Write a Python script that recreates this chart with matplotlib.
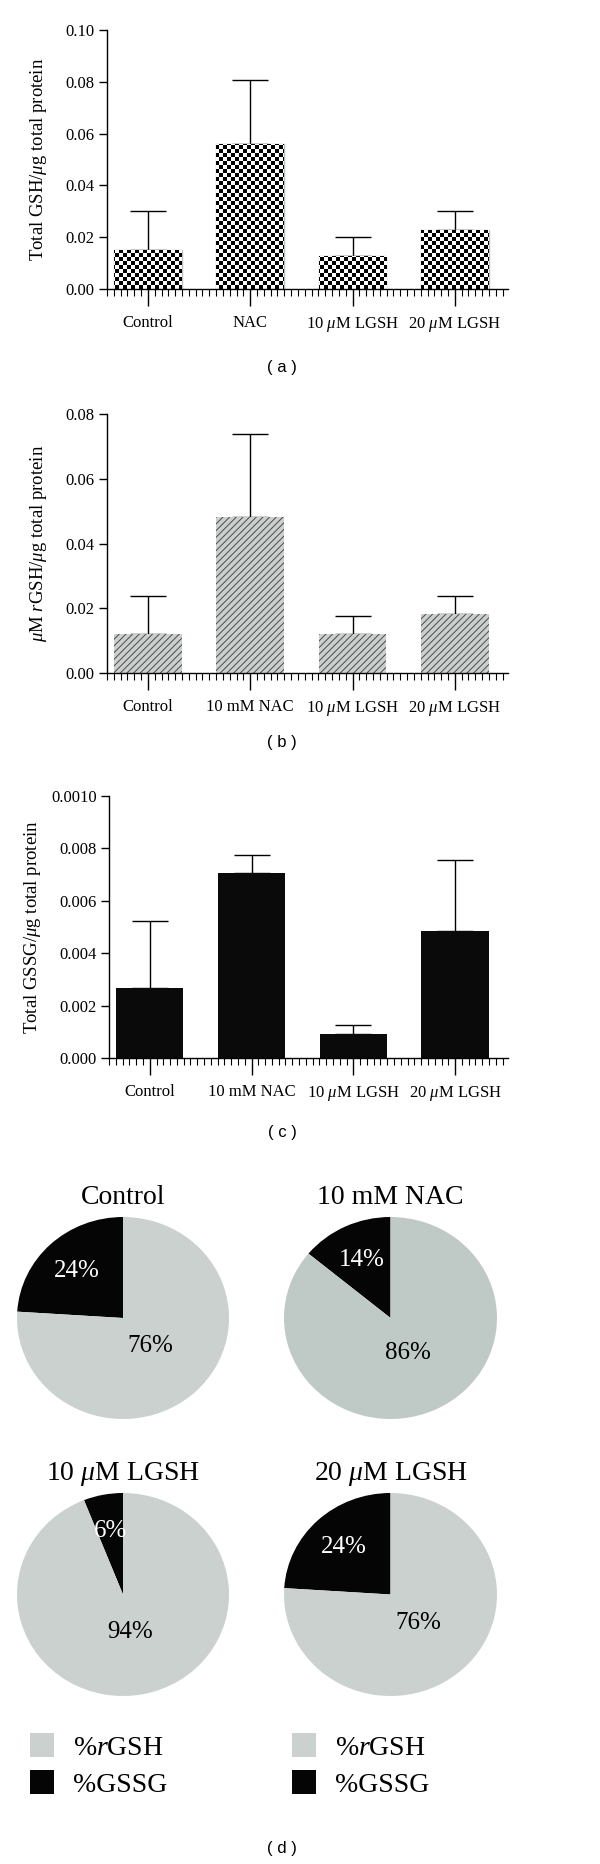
import matplotlib
matplotlib.use('Agg')
import matplotlib.pyplot as plt
from matplotlib.patches import Patch
from matplotlib.ticker import MultipleLocator
import numpy as np

plt.rcParams['font.family'] = ['Liberation Serif', 'DejaVu Serif']
plt.rcParams['mathtext.fontset'] = 'custom'
plt.rcParams['mathtext.rm'] = 'Liberation Serif'
plt.rcParams['mathtext.it'] = 'Liberation Serif:italic'
plt.rcParams['hatch.linewidth'] = 0.7

# ---------------- data ----------------
groups_a = ['Control', 'NAC', r'10 $\mu$M LGSH', r'20 $\mu$M LGSH']
groups = ['Control', '10 mM NAC', r'10 $\mu$M LGSH', r'20 $\mu$M LGSH']

total_gsh = [0.0152, 0.0559, 0.0127, 0.0229]
total_gsh_err = [0.0148, 0.0248, 0.0072, 0.0071]

rgsh = [0.0121, 0.0483, 0.0121, 0.0181]
rgsh_err = [0.0118, 0.0255, 0.0056, 0.0058]

gssg = [0.00266, 0.00708, 0.00092, 0.00485]
gssg_err = [0.00255, 0.00065, 0.00033, 0.00272]
gssg_ticks = [0.0, 0.002, 0.004, 0.006, 0.008, 0.010]
gssg_ticklabels = ['0.000', '0.002', '0.004', '0.006', '0.008', '0.0010']

pct_rgsh = [76, 86, 94, 76]
pct_gssg = [24, 14, 6, 24]
pie_grays = ['#cad1ce', '#bfcac6', '#cad1ce', '#cad1ce']

W, H = 600, 1864
fig = plt.figure(figsize=(W / 100, H / 100), dpi=100)
XLIM = (-0.40, 3.52)


def px_axes(x0, y0, x1, y1):
    # pixel box (top-left origin) -> figure axes
    return fig.add_axes([x0 / W, 1 - y1 / H, (x1 - x0) / W, (y1 - y0) / H])


def style_bar_axes(ax, labels, ymax):
    x = np.arange(len(labels))
    ax.set_xlim(*XLIM)
    ax.set_ylim(0, ymax)
    for s in ['top', 'right']:
        ax.spines[s].set_visible(False)
    for s in ['left', 'bottom']:
        ax.spines[s].set_linewidth(1.0)
    ax.set_xticks(x)
    ax.set_xticklabels(labels, fontsize=12)
    ax.xaxis.set_minor_locator(MultipleLocator(1 / 15))
    ax.tick_params(axis='x', which='major', length=12, width=1.0, pad=7)
    ax.tick_params(axis='x', which='minor', length=5, width=0.8)
    ax.tick_params(axis='y', which='major', length=6, width=1.0, labelsize=12, pad=3)
    return x


def add_errors(ax, x, vals, errs):
    ax.errorbar(x, vals, yerr=[np.zeros(len(vals)), errs], fmt='none',
                ecolor='black', elinewidth=1.0, capsize=13, capthick=1.0, zorder=1)


bar_w = 0.66

# ---------------- (a) ----------------
ax = px_axes(107, 30, 508, 289)
x = style_bar_axes(ax, groups_a, 0.10)
ax.set_yticks([0, 0.02, 0.04, 0.06, 0.08, 0.10])
ax.set_yticklabels(['0.00', '0.02', '0.04', '0.06', '0.08', '0.10'])
add_errors(ax, x, total_gsh, total_gsh_err)
bars = ax.bar(x, total_gsh, width=bar_w, color='white', edgecolor='#b4bfbf',
              linewidth=1.0, zorder=2)
# checkerboard fill (about 4 px cells)
nx, ny = 100, 65
checker = (np.add.outer(np.arange(ny), np.arange(nx)) % 2).astype(float)
for b in bars:
    im = ax.imshow(checker, cmap='gray', extent=(*XLIM, 0, 0.10),
                   aspect='auto', interpolation='nearest', zorder=2.5)
    im.set_clip_path(b)
ax.set_xlim(*XLIM)
ax.set_ylim(0, 0.10)
ax.set_ylabel(r'Total GSH/$\mu$g total protein', fontsize=13.5, labelpad=12)
fig.text(0.47, 1 - 367 / H, '( a )', ha='center', va='center',
         family='Liberation Sans', fontsize=12)

# ---------------- (b) ----------------
ax = px_axes(107, 414, 508, 673)
x = style_bar_axes(ax, groups, 0.08)
ax.set_yticks([0, 0.02, 0.04, 0.06, 0.08])
ax.set_yticklabels(['0.00', '0.02', '0.04', '0.06', '0.08'])
add_errors(ax, x, rgsh, rgsh_err)
ax.bar(x, rgsh, width=bar_w, color='#cbd0ce', edgecolor='#4a4a4a',
       linewidth=0, hatch='/////', zorder=2)
ax.set_ylabel(r'$\mu$M $r$GSH/$\mu$g total protein', fontsize=13.5, labelpad=12)
fig.text(0.47, 1 - 743 / H, '( b )', ha='center', va='center',
         family='Liberation Sans', fontsize=12)

# ---------------- (c) ----------------
ax = px_axes(109, 796, 508, 1058)
x = style_bar_axes(ax, groups, 0.010)
ax.set_yticks(gssg_ticks)
ax.set_yticklabels(gssg_ticklabels)
add_errors(ax, x, gssg, gssg_err)
ax.bar(x, gssg, width=bar_w, color='#0a0a0a', edgecolor='none', zorder=2)
ax.set_ylabel(r'Total GSSG/$\mu$g total protein', fontsize=13.5, labelpad=6)
fig.text(0.47, 1 - 1133 / H, '( c )', ha='center', va='center',
         family='Liberation Sans', fontsize=12)

# ---------------- (d) pies ----------------
pie_boxes = [(17, 1217, 229, 1419), (284, 1217, 497, 1419),
             (17, 1493, 229, 1696), (284, 1493, 497, 1696)]
label_r = [0.64, 0.38]
for i, box in enumerate(pie_boxes):
    ax = px_axes(*box)
    wedges, _ = ax.pie([pct_gssg[i], pct_rgsh[i]], colors=['#050505', pie_grays[i]],
                       startangle=90, counterclock=True, radius=1.0,
                       wedgeprops=dict(linewidth=0))
    ax.set_aspect('auto')
    ax.set_xlim(-1, 1)
    ax.set_ylim(-1, 1)
    for k, (w, v) in enumerate(zip(wedges, [pct_gssg[i], pct_rgsh[i]])):
        ang = np.deg2rad((w.theta1 + w.theta2) / 2)
        ax.text(label_r[k] * np.cos(ang), label_r[k] * np.sin(ang), f'{v}%',
                ha='center', va='center', fontsize=18,
                color='white' if k == 0 else 'black')
    ax.set_title(groups[i], fontsize=20, pad=9)

for lx in [30, 292]:
    fig.legend(handles=[Patch(facecolor='#cad1ce', edgecolor='none'),
                        Patch(facecolor='#050505', edgecolor='none')],
               labels=[r'%$r$GSH', '%GSSG'], loc='upper left',
               bbox_to_anchor=(lx / W, 1 - 1733 / H), frameon=False,
               fontsize=20, handlelength=0.85, handleheight=0.95,
               handletextpad=0.7, labelspacing=0.35, borderaxespad=0,
               borderpad=0)

fig.text(0.47, 1 - 1848 / H, '( d )', ha='center', va='center',
         family='Liberation Sans', fontsize=12)

fig.savefig('out.png', dpi=100)
